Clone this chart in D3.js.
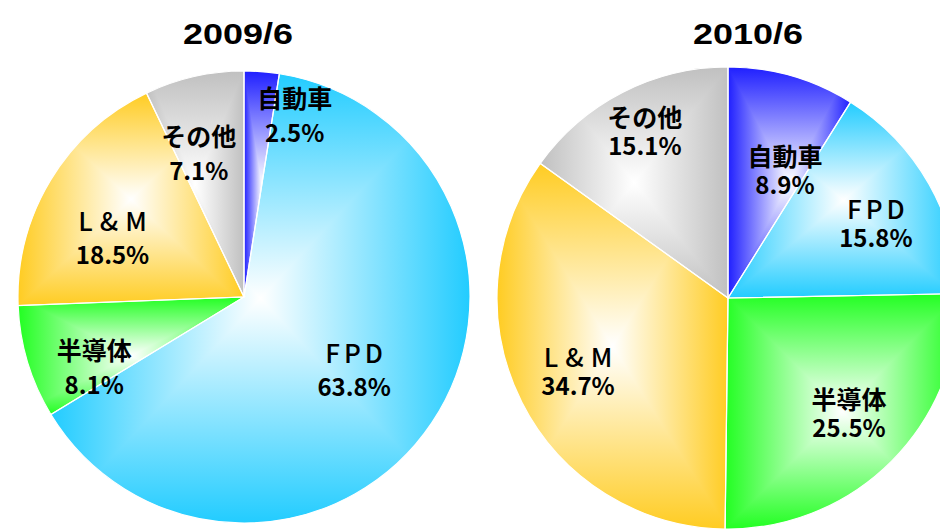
<!DOCTYPE html>
<html>
<head>
<meta charset="utf-8">
<script src="https://cdn.jsdelivr.net/npm/d3@7"></script>
<style>
  body { margin: 0; background: #fff; }
  svg { display: block; }
</style>
</head>
<body>
<svg></svg>
<script>
var svgWidth = 940, svgHeight = 529;

// data
var categories = ["自動車", "FPD", "半導体", "L&M", "その他"];
var titles = ["2009/6", "2010/6"];
var values2009 = [2.5, 63.8, 8.1, 18.5, 7.1];
var values2010 = [8.9, 15.8, 25.5, 34.7, 15.1];
var colors = ["#1f1fff", "#22ccff", "#22ff22", "#ffcc22", "#c0c0c0"];

// layout: [angle nudge in degrees, label radius factor] per slice
var labelLayout2009 = [[11, 0.84], [-1, 0.58], [-8, 0.73], [-6.5, 0.64], [-4.6, 0.67]];
var labelLayout2010 = [[7.8, 0.61], [2.3, 0.72], [-1.5, 0.72], [1.2, 0.72], [0.8, 0.81]];
// extra letter spacing for the latin labels (FPD, L&M)
var letterSpacing = [0, 4, 0, 7, 0];

var charts = [
    { title: titles[0], values: values2009, cx: 244, cy: 297, r: 226, titleX: 238, lineGap: 34, layout: labelLayout2009 },
    { title: titles[1], values: values2010, cx: 728, cy: 298, r: 231, titleX: 748, lineGap: 29, layout: labelLayout2010 }
];

var svg = d3.select("svg")
            .attr("width", svgWidth)
            .attr("height", svgHeight);

// rectangular "path" gradient = horizontal + vertical ramp combined with darken
var defs = svg.append("defs");
colors.forEach(function(c, i) {
    ["h", "v"].forEach(function(dir) {
        var g = defs.append("linearGradient")
            .attr("id", "grad-" + dir + i)
            .attr("x1", 0).attr("y1", 0)
            .attr("x2", dir == "h" ? 1 : 0)
            .attr("y2", dir == "v" ? 1 : 0);
        g.append("stop").attr("offset", "0%").attr("stop-color", c);
        g.append("stop").attr("offset", "50%").attr("stop-color", "#ffffff");
        g.append("stop").attr("offset", "100%").attr("stop-color", c);
    });
});

var pie = d3.pie().sort(null).value(function(d) { return d; });

charts.forEach(function(chart) {
    var arc = d3.arc().innerRadius(0).outerRadius(chart.r);
    var arcs = pie(chart.values);

    var g = svg.append("g")
        .attr("transform", "translate(" + chart.cx + "," + chart.cy + ")");

    var slices = g.selectAll(".slice")
        .data(arcs)
        .enter().append("g")
            .attr("class", "slice")
            .style("isolation", "isolate");

    slices.append("path")
        .attr("d", arc)
        .attr("fill", function(d, i) { return "url(#grad-h" + i + ")"; });

    slices.append("path")
        .attr("d", arc)
        .attr("fill", function(d, i) { return "url(#grad-v" + i + ")"; })
        .style("mix-blend-mode", "darken");

    g.selectAll(".edge")
        .data(arcs)
        .enter().append("path")
            .attr("class", "edge")
            .attr("d", arc)
            .attr("fill", "none")
            .attr("stroke", "#ffffff")
            .attr("stroke-width", 1.2);

    // labels
    var labels = g.selectAll(".label")
        .data(arcs)
        .enter().append("g")
            .attr("class", "label")
            .attr("transform", function(d, i) {
                var lay = chart.layout[i];
                var a = (d.startAngle + d.endAngle) / 2 + lay[0] * Math.PI / 180;
                var rr = chart.r * lay[1];
                return "translate(" + (Math.sin(a) * rr) + "," + (-Math.cos(a) * rr) + ")";
            });

    labels.append("text")
        .attr("x", function(d, i) { return letterSpacing[i] / 2; })
        .attr("y", -chart.lineGap / 2)
        .attr("text-anchor", "middle")
        .attr("dominant-baseline", "central")
        .style("font-family", "'Noto Sans CJK JP', sans-serif")
        .style("font-weight", function(d, i) { return letterSpacing[i] ? 500 : 700; })
        .style("font-size", function(d, i) { return letterSpacing[i] ? "26px" : "25px"; })
        .style("letter-spacing", function(d, i) { return letterSpacing[i] + "px"; })
        .text(function(d, i) { return categories[i]; });

    labels.append("text")
        .attr("y", chart.lineGap / 2)
        .attr("text-anchor", "middle")
        .attr("dominant-baseline", "central")
        .style("font-family", "'Noto Sans CJK JP', sans-serif")
        .style("font-weight", 700)
        .style("font-size", "24px")
        .text(function(d) { return d.data.toFixed(1) + "%"; });

    svg.append("text")
        .attr("x", chart.titleX)
        .attr("y", 44)
        .attr("text-anchor", "middle")
        .attr("textLength", 110)
        .attr("lengthAdjust", "spacingAndGlyphs")
        .style("font-family", "'Liberation Sans', Arial, sans-serif")
        .style("font-weight", 700)
        .style("font-size", "30px")
        .text(chart.title);
});
</script>
</body>
</html>
